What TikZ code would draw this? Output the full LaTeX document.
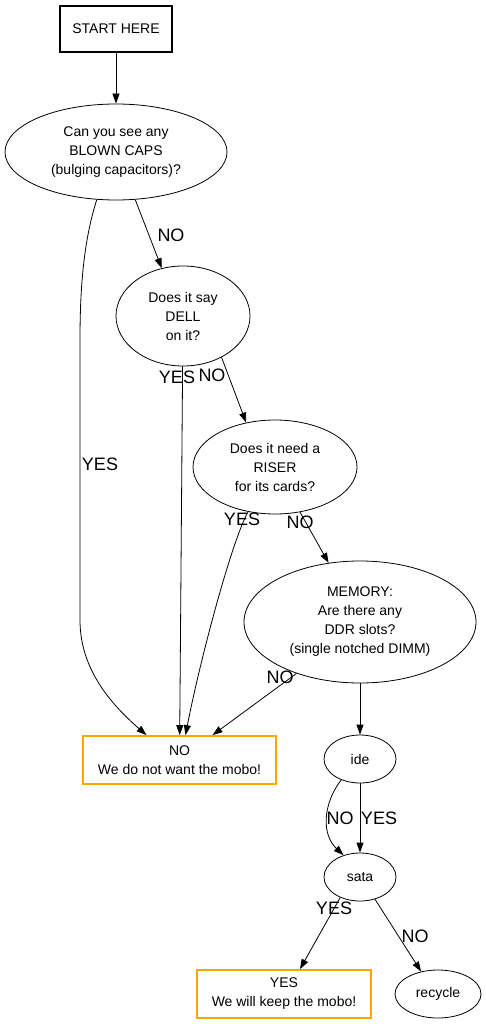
\documentclass[tikz,border=0pt]{standalone}
\usepackage{fontspec}
\setmainfont{Liberation Sans}
\usepackage{tikz}
\usetikzlibrary{arrows.meta,shapes.geometric,calc}
\usepackage{xcolor}
\definecolor{boxorange}{RGB}{255,165,0}

\begin{document}
\begin{tikzpicture}[x=1pt, y=-1pt,
    every node/.style={font=\fontsize{14}{19}\selectfont, align=center},
    ask/.style={draw, ellipse, inner sep=0pt, line width=0.8pt},
    answer/.style={draw=boxorange, line width=1.8pt, inner sep=0pt,
      minimum width=193pt, minimum height=48pt},
    edge/.style={-{Triangle[length=10pt,width=7pt]}, line width=0.8pt},
    lab/.style={font=\fontsize{18}{20}\selectfont, inner sep=0pt}]
        \useasboundingbox (0,0) rectangle (485,1024);
        % Start
        \node[draw, line width=2pt, minimum width=112pt, minimum height=46pt]
          (start) at (116,29) {START HERE};
        % Questions
        \node[ask, minimum width=222pt, minimum height=96pt] (caps) at (116,152)
          {Can you see any\\BLOWN CAPS\\(bulging capacitors)?};
        \node[ask, minimum width=134pt, minimum height=100pt] (dell) at (183,316)
          {Does it say\\DELL\\on it?};
        \node[ask, minimum width=164pt, minimum height=94pt] (riser) at (275,467)
          {Does it need a\\RISER\\for its cards?};
        \node[ask, minimum width=232pt, minimum height=122pt] (memory) at (360,622)
          {MEMORY:\\Are there any\\DDR slots?\\(single notched DIMM)};
        \node[ask, minimum width=72pt, minimum height=48pt] (ide) at (360,759) {ide};
        \node[ask, minimum width=72pt, minimum height=48pt] (sata) at (360,877) {sata};
        \node[ask, minimum width=86pt, minimum height=48pt] (recycle) at (438,994) {recycle};
        % Answers
        \node[answer] (nobox) at (179.5,760) {NO\\We do not want the mobo!};
        \node[answer, minimum width=174pt] (yesbox) at (284,994) {YES\\We will keep the mobo!};
        % Edges
        \draw[edge] (start) -- (caps);
        \draw[edge] (caps.-68) -- (dell.114)
          node[lab] (l1) at (171,235) {NO};
        \draw[edge] (caps.-112) .. controls (84,240) and (80,285) .. (80,340)
          -- (80,620) .. controls (80,670) and (112,705) .. ($(nobox.north)+(-33,0)$)
          node[lab] (l2) at (100,464) {YES};
        \draw[edge] (dell) -- (nobox)
          node[lab] (l3) at (177,377) {YES};
        \draw[edge] (dell.-47) -- (riser.123)
          node[lab] (l4) at (212,375) {NO};
        \draw[edge] (riser.-121) .. controls (232,540) and (200,660) .. ($(nobox.north)+(6,0)$)
          node[lab] (l5) at (242,519) {YES};
        \draw[edge] (riser.-61) -- (memory.118)
          node[lab] (l6) at (300,522) {NO};
        \draw[edge] (memory.-141) -- ($(nobox.north)+(33,0)$)
          node[lab] (l7) at (280,677) {NO};
        \draw[edge] (memory) -- (ide);
        \draw[edge] (ide.-132) .. controls (322,805) and (322,835) .. (sata.127)
          node[lab] (l8) at (340,818) {NO};
        \draw[edge] (ide) -- (sata)
          node[lab] (l9) at (379,818) {YES};
        \draw[edge] (sata.-134) -- ($(yesbox.north)+(16,0)$)
          node[lab] (l10) at (334,908) {YES};
        \draw[edge] (sata.-56) -- (recycle.127)
          node[lab] (l11) at (415,936) {NO};
      \end{tikzpicture}
\end{document}
